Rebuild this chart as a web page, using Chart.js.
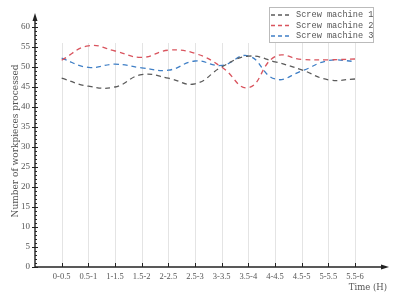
<!DOCTYPE html>
<html>
<head>
<meta charset="utf-8">
<script src="https://cdn.jsdelivr.net/npm/chart.js@4/dist/chart.umd.min.js"></script>
<style>
  html, body { margin: 0; padding: 0; background: #fff; }
  #wrap { width: 393px; height: 300px; }
</style>
</head>
<body>
<div id="wrap"><canvas id="chart"></canvas></div>
<script>
const categories = ["0-0.5", "0.5-1", "1-1.5", "1.5-2", "2-2.5", "2.5-3", "3-3.5", "3.5-4", "4-4.5", "4.5-5", "5-5.5", "5.5-6"];
const machine1 = [47.2, 45.2, 45.0, 48.1, 47.2, 45.8, 50.0, 52.7, 51.3, 49.3, 46.8, 47.0];
const machine2 = [51.7, 55.3, 54.0, 52.4, 54.2, 53.4, 50.0, 44.8, 52.6, 51.9, 51.8, 52.0];
const machine3 = [52.2, 49.9, 50.7, 49.8, 49.2, 51.5, 50.4, 52.8, 47.0, 49.0, 51.6, 51.4];
const seriesNames = ["Screw machine 1", "Screw machine 2", "Screw machine 3"];
const seriesColors = ["#5b5b5b", "#d9545e", "#3f7fc6"];
const yTicks = [0, 5, 10, 15, 20, 25, 30, 35, 40, 45, 50, 55, 60];

const textColor = "#555";
const serif = "'Liberation Serif', 'DejaVu Serif', serif";
const wideSerif = "'DejaVu Serif', serif";
const mono = "'Liberation Mono', 'DejaVu Sans Mono', monospace";

function toPoints(values) {
  return values.map((v, i) => ({ x: i, y: v }));
}

// axes with arrows, minor ticks, short grid lines and boxed legend
const decorations = {
  id: "decorations",
  beforeDatasetsDraw(chart) {
    let { ctx, scales: { x, y } } = chart;
    ctx.save();
    ctx.strokeStyle = "#e4e4e4";
    ctx.lineWidth = 1;
    categories.forEach((c, i) => {
      let px = Math.round(x.getPixelForValue(i)) + 0.5;
      ctx.beginPath();
      ctx.moveTo(px, y.getPixelForValue(0));
      ctx.lineTo(px, y.getPixelForValue(56));
      ctx.stroke();
    });
    ctx.restore();
  },
  afterDraw(chart) {
    let { ctx, scales: { x, y } } = chart;
    let x0 = x.left;
    let y0 = y.getPixelForValue(0);
    ctx.save();
    ctx.strokeStyle = "#222";
    ctx.fillStyle = "#222";
    ctx.lineWidth = 1.4;
    // y axis
    ctx.beginPath();
    ctx.moveTo(x0, y0);
    ctx.lineTo(x0, y.top + 4);
    ctx.stroke();
    ctx.beginPath();
    ctx.moveTo(x0, y.top - 2);
    ctx.lineTo(x0 - 2.5, y.top + 6);
    ctx.lineTo(x0 + 2.5, y.top + 6);
    ctx.closePath();
    ctx.fill();
    // x axis
    ctx.beginPath();
    ctx.moveTo(x0, y0);
    ctx.lineTo(x.right - 4, y0);
    ctx.stroke();
    ctx.beginPath();
    ctx.moveTo(x.right + 2, y0);
    ctx.lineTo(x.right - 6, y0 - 2.5);
    ctx.lineTo(x.right - 6, y0 + 2.5);
    ctx.closePath();
    ctx.fill();
    // y ticks
    ctx.lineWidth = 1;
    for (let v = 0; v <= 61; v++) {
      let py = Math.round(y.getPixelForValue(v)) + 0.5;
      ctx.beginPath();
      if (v % 5 === 0) {
        ctx.moveTo(x0 - 3, py);
        ctx.lineTo(x0 + 3, py);
      } else {
        ctx.moveTo(x0, py);
        ctx.lineTo(x0 + 2, py);
      }
      ctx.stroke();
    }
    // x ticks
    categories.forEach((c, i) => {
      let px = Math.round(x.getPixelForValue(i)) + 0.5;
      ctx.beginPath();
      ctx.moveTo(px, y0);
      ctx.lineTo(px, y0 - 4);
      ctx.stroke();
    });
    // legend
    let lx = 269, ly = 7, lw = 104, lh = 35;
    ctx.fillStyle = "#fff";
    ctx.fillRect(lx, ly, lw, lh);
    ctx.strokeStyle = "#bbb";
    ctx.lineWidth = 1;
    ctx.strokeRect(lx + 0.5, ly + 0.5, lw, lh);
    ctx.font = "8.6px " + mono;
    ctx.textBaseline = "middle";
    ctx.textAlign = "left";
    seriesNames.forEach((name, i) => {
      let ry = ly + 8 + i * 10.5;
      ctx.strokeStyle = seriesColors[i];
      ctx.lineWidth = 1.3;
      ctx.setLineDash([4, 3]);
      ctx.beginPath();
      ctx.moveTo(lx + 2, ry);
      ctx.lineTo(lx + 22, ry);
      ctx.stroke();
      ctx.setLineDash([]);
      ctx.fillStyle = textColor;
      ctx.fillText(name, lx + 27, ry);
    });
    ctx.restore();
  },
};

function makeDataset(i, values) {
  return {
    label: seriesNames[i],
    data: toPoints(values),
    borderColor: seriesColors[i],
    backgroundColor: seriesColors[i],
    borderWidth: 1.3,
    borderDash: [5, 4],
    pointRadius: 0,
    tension: 0.45,
    fill: false,
  };
}

new Chart(document.getElementById("chart"), {
  type: "line",
  data: {
    datasets: [makeDataset(0, machine1), makeDataset(1, machine2), makeDataset(2, machine3)],
  },
  options: {
    animation: false,
    responsive: true,
    maintainAspectRatio: false,
    layout: { padding: { top: 15, right: 6, left: 0, bottom: 0 } },
    plugins: {
      legend: { display: false },
      tooltip: { enabled: false },
    },
    scales: {
      x: {
        type: "linear",
        min: -1,
        max: 12.2,
        afterBuildTicks: (scale) => {
          scale.ticks = categories.map((c, i) => ({ value: i }));
        },
        afterFit: (scale) => {
          scale.height = 33;
        },
        ticks: {
          autoSkip: false,
          maxRotation: 0,
          padding: 5,
          color: textColor,
          font: { family: serif, size: 8.5 },
          callback: (v) => categories[v] ?? "",
        },
        grid: { display: false, drawTicks: false },
        border: { display: false },
        title: {
          display: true,
          text: "Time (H)",
          align: "end",
          color: textColor,
          font: { family: wideSerif, size: 8.5 },
          padding: { top: 1, bottom: 7 },
        },
      },
      y: {
        min: 0,
        max: 63,
        afterBuildTicks: (scale) => {
          scale.ticks = yTicks.map((v) => ({ value: v }));
        },
        afterFit: (scale) => {
          scale.width = 35;
        },
        ticks: {
          padding: 5,
          color: textColor,
          font: { family: serif, size: 9 },
        },
        grid: { display: false, drawTicks: false },
        border: { display: false },
        title: {
          display: true,
          text: "Number of workpieces processed",
          color: textColor,
          font: { family: wideSerif, size: 9 },
          padding: { top: 10, bottom: 0 },
        },
      },
    },
  },
  plugins: [decorations],
});
</script>
</body>
</html>
